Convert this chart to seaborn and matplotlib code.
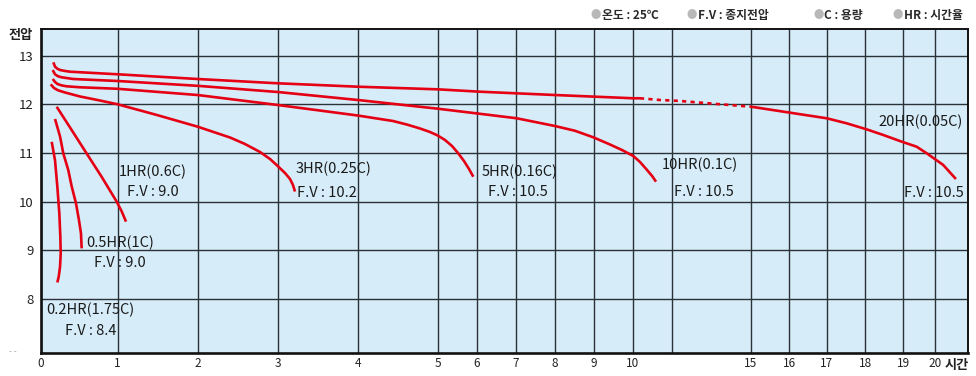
import numpy as np
import pandas as pd
import matplotlib
matplotlib.use("Agg")
import matplotlib.pyplot as plt
import seaborn as sns

# ---------------- data ----------------
x_ticks = [0, 1, 2, 3, 4, 5, 6, 7, 8, 9, 10, 11, 15, 16, 17, 18, 19, 20]
x_labels = ["0", "1", "2", "3", "4", "5", "6", "7", "8", "9", "10", "",
            "15", "16", "17", "18", "19", "20"]
y_ticks = [8, 9, 10, 11, 12, 13]

# 0.2HR (1.75C)
t_02 = [0.143, 0.186, 0.216, 0.242, 0.255, 0.26, 0.251, 0.234, 0.216]
v_02 = [11.23, 10.85, 10.31, 9.76, 9.28, 8.94, 8.66, 8.46, 8.34]
# 0.5HR (1C)
t_05 = [0.186, 0.251, 0.294, 0.358, 0.403, 0.458, 0.497, 0.523, 0.532]
v_05 = [11.70, 11.34, 10.99, 10.65, 10.31, 9.97, 9.62, 9.35, 9.04]
# 1HR (0.6C)
t_1 = [0.208, 0.403, 0.597, 0.792, 0.987, 1.05, 1.104]
v_1 = [11.95, 11.47, 10.99, 10.51, 10.00, 9.80, 9.59]
# 3HR (0.25C)
t_3 = [0.130, 0.173, 0.225, 0.316, 0.510, 0.770, 1.000, 1.491, 2.000, 2.404, 2.591,
       2.779, 2.904, 3.000, 3.091, 3.154, 3.191, 3.216]
v_3 = [12.412, 12.336, 12.289, 12.244, 12.162, 12.079, 12.001, 11.781, 11.541, 11.319,
       11.185, 11.021, 10.877, 10.733, 10.589, 10.466, 10.342, 10.209]
# 5HR (0.16C)
t_5 = [0.156, 0.186, 0.218, 0.277, 0.338, 0.510, 1.0, 2.0, 3.0, 4.0, 4.441, 4.613,
       4.779, 4.904, 5.0, 5.187, 5.367, 5.521, 5.674, 5.803, 5.913]
v_5 = [12.521, 12.460, 12.418, 12.388, 12.371, 12.351, 12.320, 12.192, 11.987, 11.771,
       11.658, 11.586, 11.504, 11.432, 11.360, 11.268, 11.144, 11.000, 10.836, 10.671, 10.513]
# 10HR (0.1C)
t_10 = [0.156, 0.186, 0.225, 0.273, 0.423, 1.0, 2.0, 3.0, 4.0, 5.0, 6.085, 7.026, 8.013,
        8.519, 8.982, 9.416, 9.727, 10.02, 10.19, 10.37, 10.50, 10.60]
v_10 = [12.706, 12.618, 12.577, 12.556, 12.521, 12.480, 12.381, 12.254, 12.090, 11.911,
        11.806, 11.714, 11.555, 11.457, 11.323, 11.175, 11.062, 10.939, 10.817, 10.652,
        10.528, 10.411]
# 20HR (0.05C): measured, extrapolated (dotted), measured
t_20a = [0.164, 0.186, 0.218, 0.251, 0.316, 0.381, 1.0, 2.0, 3.0, 4.0, 5.0, 6.085,
         8.013, 10.02, 10.19]
v_20a = [12.864, 12.774, 12.731, 12.706, 12.686, 12.671, 12.618, 12.521, 12.433, 12.363,
         12.309, 12.260, 12.192, 12.125, 12.125]
t_20d = [10.19, 10.70, 11.42, 13.2, 15.0]
v_20d = [12.125, 12.09, 12.07, 12.01, 11.952]
t_20b = [15.0, 16.02, 17.0, 17.52, 18.04, 18.48, 18.91, 19.42, 19.74, 20.26, 20.66]
v_20b = [11.952, 11.829, 11.714, 11.611, 11.487, 11.370, 11.247, 11.130, 10.994, 10.754,
         10.466]

curve_names = ["0.2HR(1.75C)", "0.5HR(1C)", "1HR(0.6C)", "3HR(0.25C)", "5HR(0.16C)",
               "10HR(0.1C)", "20HR(0.05C)"]
curve_fv = ["F.V : 8.4", "F.V : 9.0", "F.V : 9.0", "F.V : 10.2", "F.V : 10.5",
            "F.V : 10.5", "F.V : 10.5"]
legend_items = ["온도 : 25℃", "F.V : 종지전압", "C : 용량", "HR : 시간율"]

# ---------------- style ----------------
sns.set_theme(style="white")
plt.rcParams["font.family"] = ["Noto Sans CJK KR", "DejaVu Sans"]

RED = "#e50014"
BG = "#d6ecf8"

# piecewise-linear time axis (as printed on the chart)
H = np.array([-5, 0, 1, 2, 3, 4, 5, 6, 7, 8, 9, 10, 11, 15, 16, 17, 18, 19, 20, 26], float)
P = np.array([-344.3, 40.7, 117.7, 197.7, 277.7, 357.7, 437.7, 476.7, 515.7, 554.5, 594,
              632.5, 671.7, 751, 789.3, 826.7, 865, 903.3, 935, 1125.2])


def fwd(h):
    return np.interp(h, H, P)


def inv(p):
    return np.interp(p, P, H)


W, Hpx = 976, 376
fig = plt.figure(figsize=(W / 100, Hpx / 100), dpi=100)
fig.patch.set_facecolor("white")
left, right, top, bottom = 40.7, 968.3, 29.0, 352.7
ax = fig.add_axes([left / W, 1 - bottom / Hpx, (right - left) / W, (bottom - top) / Hpx])
ax.set_facecolor(BG)
ax.set_xscale("function", functions=(fwd, inv))

lw = 1.9
for t, v in [(t_02, v_02), (t_05, v_05), (t_1, v_1), (t_3, v_3), (t_5, v_5),
             (t_10, v_10), (t_20a, v_20a), (t_20b, v_20b)]:
    sns.lineplot(x=t, y=v, sort=False, estimator=None, color=RED, lw=lw, ax=ax,
                 solid_capstyle="butt", solid_joinstyle="round", zorder=3)
sns.lineplot(x=t_20d, y=v_20d, sort=False, estimator=None, color=RED, lw=lw, ax=ax,
             linestyle=(0, (1.6, 1.6)), zorder=3)

ax.set_xlim(0, inv(right))
ax.set_ylim(13 - (bottom - 55.7) / 48.66, 13 + (55.7 - top) / 48.66)
ax.set_xticks(x_ticks)
ax.set_xticklabels(x_labels)
ax.xaxis.set_minor_locator(matplotlib.ticker.NullLocator())
ax.set_yticks(y_ticks)
ax.tick_params(axis="x", length=0, pad=3, labelsize=8.5, colors="#222222")
ax.tick_params(axis="y", length=0, pad=5, labelsize=9.5, colors="#222222")
ax.set_xlabel("")
ax.set_ylabel("")
ax.grid(True, color="#2a3238", lw=1.0)
ax.set_axisbelow(True)
for s in ["left", "bottom"]:
    ax.spines[s].set_linewidth(1.9)
    ax.spines[s].set_color("#111111")
for s in ["top", "right"]:
    ax.spines[s].set_linewidth(1.4)
    ax.spines[s].set_color("#111111")

# curve annotations (name line, final-voltage line)
name_pos = [(0.64, 7.774), (1.03, 9.157), (1.44, 10.616), (3.70, 10.672), (7.09, 10.616),
            (12.41, 10.754), (19.56, 11.644)]
fv_pos = [(0.653, 7.349), (1.03, 8.746), (1.44, 10.193), (3.616, 10.185), (7.05, 10.205),
          (12.63, 10.205), (19.97, 10.185)]
for (x, y), s in zip(name_pos, curve_names):
    ax.text(x, y, s, ha="center", va="center", fontsize=10.5, color="#1a1a1a", zorder=4)
for (x, y), s in zip(fv_pos, curve_fv):
    ax.text(x, y, s, ha="center", va="center", fontsize=10.5, color="#1a1a1a", zorder=4)

# axis titles
fig.text(20.8 / W, 1 - 35 / Hpx, "전압", ha="center", va="center", fontsize=9.5,
         fontweight="bold", color="#222222")
fig.text(957 / W, 1 - 365 / Hpx, "시간", ha="center", va="center", fontsize=9.5,
         fontweight="bold", color="#222222")
fig.text(13 / W, 1 - 352 / Hpx, "- -", ha="center", va="center", fontsize=6,
         color="#aaaaaa")

# legend line at top
bx = [595.7, 691.7, 818.3, 898.0]
for b, s in zip(bx, legend_items):
    fig.text(b / W, 1 - 15 / Hpx, "●", ha="center", va="center", fontsize=7.5,
             color="#b8b8b8")
    fig.text((b + 6) / W, 1 - 15 / Hpx, s, ha="left", va="center", fontsize=8.5,
             fontweight="bold", color="#2a2a2a")

fig.savefig("out.png", dpi=100)
